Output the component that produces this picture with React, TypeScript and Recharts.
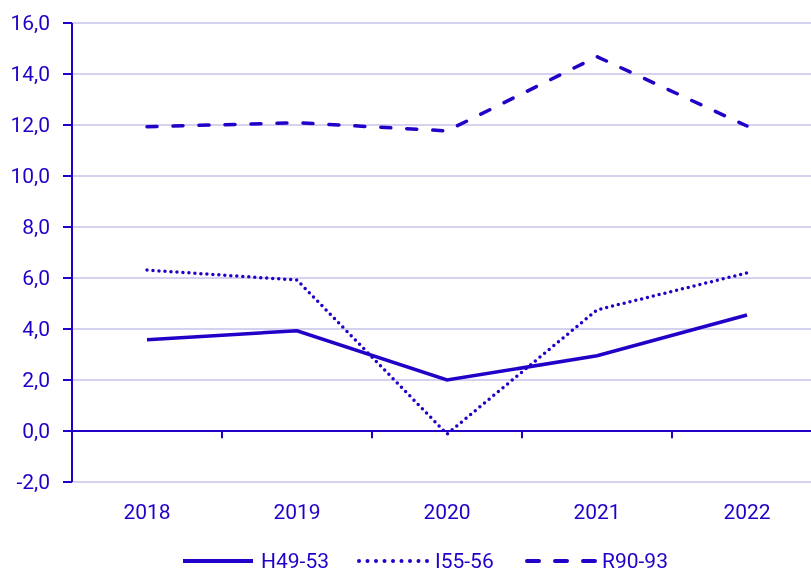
import React from "react";
import { LineChart, Line, XAxis, YAxis, CartesianGrid, ReferenceLine } from "recharts";

const years = [2018, 2019, 2020, 2021, 2022];
const h4953 = [3.58, 3.93, 2.0, 2.95, 4.55];
const i5556 = [6.31, 5.92, -0.12, 4.75, 6.2];
const r9093 = [11.93, 12.09, 11.77, 14.68, 11.96];
const yTicks = [-2, 0, 2, 4, 6, 8, 10, 12, 14, 16];
const boundaries = [2018.5, 2019.5, 2020.5, 2021.5];
const seriesNames = ["H49-53", "I55-56", "R90-93"];

const data = years.map((y, i) => ({ year: y, h: h4953[i], i: i5556[i], r: r9093[i] }));

const C = "#2200c8";
const FONT = "Roboto, 'Noto Sans', sans-serif";

export default function App() {
  return (
    <div style={{ position: "fixed", left: 8, top: 8, width: 803, height: 564, overflow: "hidden", fontFamily: FONT }}>
      <LineChart width={814} height={524} data={data} margin={{ top: 15, right: 0, bottom: 0, left: 0 }}>
        <CartesianGrid vertical={false} stroke="#d3d3f0" strokeWidth={2} />
        <XAxis
          type="number"
          scale="linear"
          dataKey="year"
          domain={[2017.5, 2022.5]}
          allowDataOverflow={true}
          ticks={years}
          tickLine={false}
          axisLine={false}
          tickSize={0}
          tickMargin={22}
          height={50}
          tick={{ fill: C, fontSize: 21, fontFamily: FONT }}
        />
        <YAxis
          domain={[-2, 16]}
          allowDataOverflow={true}
          ticks={yTicks}
          width={64}
          tickSize={9}
          tickMargin={13}
          stroke={C}
          axisLine={{ stroke: C, strokeWidth: 2 }}
          tickLine={{ stroke: C, strokeWidth: 2 }}
          tick={{ fill: C, fontSize: 21, fontFamily: FONT }}
          tickFormatter={(v: number) => v.toFixed(1).replace(".", ",")}
        />
        <ReferenceLine y={0} stroke={C} strokeWidth={2} />
        {boundaries.map((b) => (
          <ReferenceLine
            key={b}
            segment={[{ x: b, y: 0 }, { x: b, y: -0.28 }]}
            stroke={C}
            strokeWidth={2}
          />
        ))}
        <Line dataKey="h" name={seriesNames[0]} stroke={C} strokeWidth={3.5} dot={false} isAnimationActive={false} />
        <Line
          dataKey="i"
          name={seriesNames[1]}
          stroke={C}
          strokeWidth={3.5}
          strokeDasharray="0 6"
          strokeLinecap="round"
          dot={false}
          isAnimationActive={false}
        />
        <Line
          dataKey="r"
          name={seriesNames[2]}
          stroke={C}
          strokeWidth={3.5}
          strokeDasharray="10 16"
          strokeLinecap="round"
          dot={false}
          isAnimationActive={false}
        />
      </LineChart>
      <div style={{ position: "relative", height: 40 }}>
        <svg width={803} height={40} style={{ position: "absolute", left: 0, top: 0 }}>
          <line x1={175} y1={29} x2={245} y2={29} stroke={C} strokeWidth={4} />
          <line x1={351} y1={29} x2={420} y2={29} stroke={C} strokeWidth={4} strokeDasharray="0 8.5" strokeLinecap="round" />
          <line x1={519} y1={29} x2={591} y2={29} stroke={C} strokeWidth={4} strokeDasharray="12 16" strokeLinecap="round" />
          <text x={253} y={36} fill={C} fontSize={21} fontFamily={FONT}>{seriesNames[0]}</text>
          <text x={427} y={36} fill={C} fontSize={21} fontFamily={FONT}>{seriesNames[1]}</text>
          <text x={594} y={36} fill={C} fontSize={21} fontFamily={FONT}>{seriesNames[2]}</text>
        </svg>
      </div>
    </div>
  );
}
